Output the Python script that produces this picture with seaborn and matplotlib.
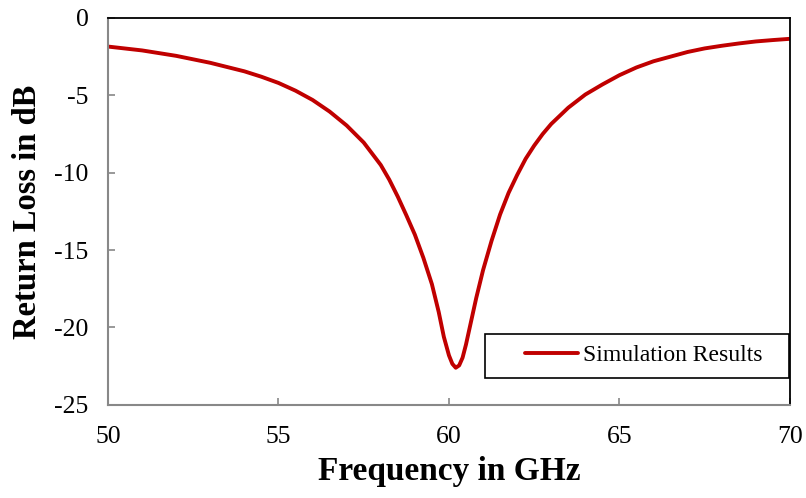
import pandas as pd
import seaborn as sns
import matplotlib.pyplot as plt
from matplotlib.patches import Rectangle

# frekans (GHz) ve return loss (dB) degerleri
freq = [50, 51, 52, 53, 54, 54.5, 55, 55.5, 56, 56.5, 57, 57.5, 58, 58.25,
        58.5, 58.75, 59, 59.25, 59.5, 59.7, 59.85, 60, 60.1, 60.2, 60.3, 60.4,
        60.5, 60.65, 60.8, 61, 61.25, 61.5, 61.75, 62, 62.25, 62.5, 62.75, 63,
        63.5, 64, 64.5, 65, 65.5, 66, 66.5, 67, 67.5, 68, 68.5, 69, 69.5, 70]
return_loss = [-1.85, -2.1, -2.45, -2.9, -3.45, -3.8, -4.2, -4.7, -5.3, -6.05,
               -6.95, -8.05, -9.5, -10.45, -11.55, -12.75, -14.0, -15.5, -17.2,
               -19.0, -20.6, -21.8, -22.35, -22.6, -22.45, -21.95, -21.1, -19.6,
               -18.1, -16.3, -14.4, -12.7, -11.3, -10.15, -9.1, -8.25, -7.5,
               -6.85, -5.8, -4.95, -4.3, -3.7, -3.2, -2.8, -2.5, -2.2, -1.97,
               -1.8, -1.65, -1.52, -1.43, -1.35]
x_ticks = [50, 55, 60, 65, 70]
y_ticks = [0, -5, -10, -15, -20, -25]

df = pd.DataFrame({'freq': freq, 'rl': return_loss})

sns.set_style('white')
plt.rcParams['font.family'] = ['Liberation Serif', 'DejaVu Serif']

fig = plt.figure(figsize=(8.06, 4.98), dpi=100)
ax = fig.add_axes([0.134, 0.187, 0.846, 0.777])

sns.lineplot(data=df, x='freq', y='rl', ax=ax, color='#C00000', linewidth=2.8,
             label='Simulation Results', solid_capstyle='round',
             solid_joinstyle='round')

ax.set_xlim(50, 70)
ax.set_ylim(-25, 0)
ax.set_xticks(x_ticks)
ax.set_yticks(y_ticks)
ax.set_xticklabels([str(t) for t in x_ticks])
ax.set_yticklabels([str(t) for t in y_ticks])
ax.tick_params(axis='both', direction='in', length=5, width=1.2, color='#888888',
               labelsize=18.5, labelcolor='black', pad=14, left=True, bottom=True)
ax.tick_params(axis='x', pad=15)

for s in ['left', 'bottom']:
    ax.spines[s].set_color('#888888')
    ax.spines[s].set_linewidth(1.5)
for s in ['top', 'right']:
    ax.spines[s].set_color('black')
    ax.spines[s].set_linewidth(1.3)

ax.set_xlabel('Frequency in GHz', fontsize=24, fontweight='bold', labelpad=6,
              color='black')
ax.set_ylabel('Return Loss in dB', fontsize=23.5, fontweight='bold', labelpad=8,
              color='black')

# legend kutusu (referanstaki gibi genis)
box = Rectangle((0.553, 0.07), 0.446, 0.114, transform=ax.transAxes,
                facecolor='white', edgecolor='black', linewidth=1.2, zorder=4)
ax.add_patch(box)
leg = ax.legend(loc='center', bbox_to_anchor=(0.553 + 0.223 + 0.01, 0.07 + 0.057),
                fontsize=17, frameon=False, handlelength=2.25,
                handletextpad=0.2, borderpad=0, borderaxespad=0)
leg.set_zorder(5)
for t in leg.get_texts():
    t.set_color('black')
for h in leg.get_lines():
    h.set_solid_capstyle('round')

plt.savefig('out.png', dpi=100)
plt.close()
